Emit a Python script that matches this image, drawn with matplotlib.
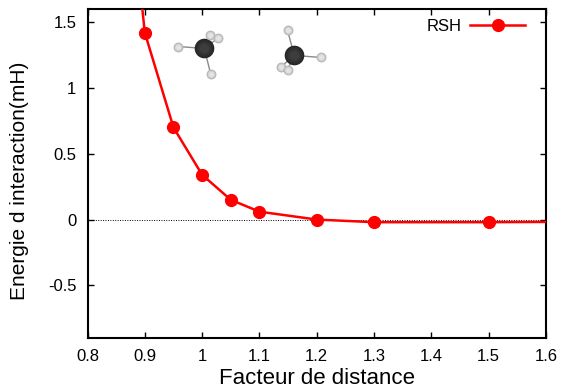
import matplotlib
matplotlib.use('Agg')
import matplotlib.pyplot as plt

plt.rcParams['font.family'] = ['Liberation Sans', 'DejaVu Sans']

# first and last points are outside the window, only the line shows
dist = [0.85, 0.9, 0.95, 1.0, 1.05, 1.1, 1.2, 1.3, 1.5, 2.0]
rsh = [3.5, 1.42, 0.70, 0.34, 0.15, 0.06, 0.0, -0.02, -0.02, -0.01]

xticks = [0.8, 0.9, 1.0, 1.1, 1.2, 1.3, 1.4, 1.5, 1.6]
xlabels = ['0.8', '0.9', '1', '1.1', '1.2', '1.3', '1.4', '1.5', '1.6']
yticks = [-0.5, 0, 0.5, 1, 1.5]
ylabels = ['-0.5', '0', '0.5', '1', '1.5']

# the two CH4 pictures, atoms in data coordinates
c1 = (1.004, 1.30)
h1 = [(0.958, 1.315), (1.014, 1.40), (1.027, 1.377), (1.015, 1.103)]
c2 = (1.161, 1.247)
h2 = [(1.149, 1.437), (1.207, 1.232), (1.138, 1.163), (1.149, 1.14)]

fig = plt.figure(figsize=(5.61, 3.89), dpi=100)
ax = fig.add_axes([87.5 / 561, 1 - 338 / 389, (546 - 87.5) / 561, (338 - 9) / 389])

ax.axhline(0, color='black', lw=0.7, ls=(0, (1, 1.5)), zorder=1)
ax.plot(dist, rsh, '-o', color='#ff0000', lw=1.8, ms=8.5, label='RSH', zorder=3)


def sphere(x, y, size, shades):
    # a few shrinking discs to fake the shading
    for i, col in enumerate(shades):
        ax.scatter([x], [y], s=size * (1 - i / len(shades)), color=col, lw=0, zorder=5)


for c, hs in [(c1, h1), (c2, h2)]:
    for h in hs:
        ax.plot([c[0], h[0]], [c[1], h[1]], color='#8a8a8a', lw=1, zorder=4)
    sphere(c[0], c[1], 200, ['#262626', '#2c2c2c', '#333333', '#3d3d3d'])
    for h in hs:
        sphere(h[0], h[1], 50, ['#b0b0b0', '#c4c4c4', '#d4d4d4', '#e4e4e4'])

ax.set_xlim(0.8, 1.6)
ax.set_ylim(-0.9, 1.6)
ax.set_xticks(xticks, xlabels)
ax.set_yticks(yticks, ylabels)
ax.tick_params(direction='in', top=True, right=True, length=4, width=1,
               labelsize=12, pad=8, colors='black')
for s in ax.spines.values():
    s.set_linewidth(1.5)

ax.set_xlabel('Facteur de distance', fontsize=16, labelpad=3)
ax.set_ylabel("Energie d interaction(mH)", fontsize=15)
ax.yaxis.set_label_coords(-0.128, 0.477)

ax.legend(loc='upper right', frameon=False, fontsize=12, markerfirst=False,
          handlelength=3.3, borderaxespad=0, bbox_to_anchor=(0.969, 0.991),
          handletextpad=0.5)

fig.savefig('out.png', dpi=100)
